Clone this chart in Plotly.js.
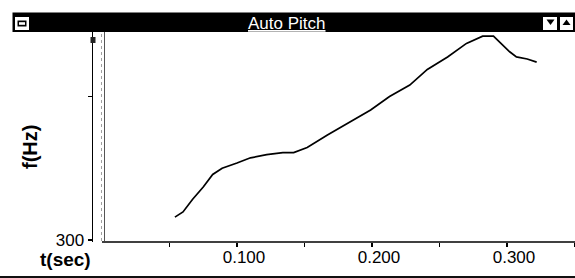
<!DOCTYPE html>
<html><head><meta charset="utf-8">
<script src="https://cdn.plot.ly/plotly-3.0.1.min.js"></script>
<style>html,body{margin:0;padding:0;background:#fff;}#chart{width:575px;height:278px;}</style>
</head><body><div id="chart"></div>
<script>
// Data
const timeSec = [0.054,0.060,0.067,0.075,0.082,0.089,0.100,0.110,0.122,0.134,0.142,0.152,0.167,0.184,0.199,0.213,0.228,0.241,0.256,0.270,0.282,0.290,0.295,0.302,0.307,0.315,0.322];
const pitchHz = [322,327,339,351,363,369,374,379,382,384,384,389,401,414,425,438,449,464,476,489,496,496,490,481,476,474,471];
const xTickVals = [0.05,0.10,0.15,0.20,0.25,0.30,0.35];
const xTickText = ['','0.100','','0.200','','0.300',''];
const yTickVals = [300,438];
const yTickText = ['300',''];

const L=93, T=30, B=242, R=575;
const PX = p => (p-L)/(R-L);
const PY = p => (B-p)/(B-T);
const FONT = 'Liberation Sans, Arial, sans-serif';

const shapes = [
  // title bar
  {type:'rect',xref:'paper',yref:'paper',x0:PX(12.5),x1:1.0,y0:PY(32),y1:PY(12.5),fillcolor:'#000',line:{width:0}},
  // left system box
  {type:'rect',xref:'paper',yref:'paper',x0:PX(15),x1:PX(29),y0:PY(30),y1:PY(17),fillcolor:'#fff',line:{width:0}},
  {type:'rect',xref:'paper',yref:'paper',x0:PX(17.5),x1:PX(26.5),y0:PY(26.5),y1:PY(20.5),fillcolor:'#000',line:{width:0}},
  {type:'rect',xref:'paper',yref:'paper',x0:PX(19),x1:PX(25),y0:PY(24.8),y1:PY(22.2),fillcolor:'#fff',line:{width:0}},
  // right buttons
  {type:'rect',xref:'paper',yref:'paper',x0:PX(543),x1:PX(557),y0:PY(30),y1:PY(17),fillcolor:'#fff',line:{width:0}},
  {type:'rect',xref:'paper',yref:'paper',x0:PX(560),x1:PX(573),y0:PY(30),y1:PY(17),fillcolor:'#fff',line:{width:0}},
  {type:'path',xref:'paper',yref:'paper',path:`M ${PX(546.5)} ${PY(19.5)} L ${PX(554.5)} ${PY(19.5)} L ${PX(550.5)} ${PY(25)} Z`,fillcolor:'#000',line:{width:0}},
  {type:'path',xref:'paper',yref:'paper',path:`M ${PX(562.5)} ${PY(25)} L ${PX(570.5)} ${PY(25)} L ${PX(566.5)} ${PY(19.5)} Z`,fillcolor:'#000',line:{width:0}},
  // second (gray dotted) vertical line of y axis
  {type:'line',xref:'paper',yref:'paper',x0:PX(101.5),x1:PX(101.5),y0:PY(241),y1:PY(32),line:{color:'#a0a0a0',width:1,dash:'dot'}},
  {type:'line',xref:'paper',yref:'paper',x0:PX(104.5),x1:PX(104.5),y0:PY(241),y1:PY(32),line:{color:'#555',width:1}},
  // x axis line starting at t=0
  {type:'line',xref:'x',yref:'paper',x0:0,x1:0.3504,y0:0,y1:0,line:{color:'#000',width:1.5}},
  // small mark near top of y axis
  {type:'rect',xref:'paper',yref:'paper',x0:PX(90.5),x1:PX(95.5),y0:PY(43),y1:PY(37),fillcolor:'#222',line:{width:0}},
  // bottom border
  {type:'line',xref:'paper',yref:'paper',x0:PX(0),x1:1.0,y0:PY(277),y1:PY(277),line:{color:'#111',width:2}}
];

const annotations = [
  {text:'Auto Pitch',xref:'paper',yref:'paper',x:PX(287),y:PY(24),showarrow:false,xanchor:'center',yanchor:'middle',
   font:{family:FONT,size:17,color:'#fff',lineposition:'under'}},
  {text:'<b>t(sec)</b>',xref:'paper',yref:'paper',x:PX(65),y:PY(259),showarrow:false,xanchor:'center',yanchor:'middle',
   font:{family:FONT,size:19,color:'#000'}},
  {text:'<b>f(Hz)</b>',xref:'paper',yref:'paper',x:PX(30),y:PY(147),showarrow:false,xanchor:'center',yanchor:'middle',textangle:-90,
   font:{family:FONT,size:20,color:'#000'}}
];

const trace = {x:timeSec,y:pitchHz,type:'scatter',mode:'lines',line:{color:'#000',width:1.7},hoverinfo:'skip'};

const layout = {
  width:575,height:278,
  margin:{l:L,r:0,t:T,b:278-B,pad:0},
  paper_bgcolor:'#fff',plot_bgcolor:'#fff',
  showlegend:false,
  xaxis:{range:[-(9/1350),0.3504],tickvals:xTickVals,ticktext:xTickText,ticks:'outside',ticklen:4,tickwidth:1.5,tickcolor:'#000',
    showline:false,showgrid:false,zeroline:false,ticklabelshift:7,ticklabelstandoff:-4,
    tickfont:{family:FONT,size:17,color:'#000'}},
  yaxis:{range:[298.08,501.9],tickvals:yTickVals,ticktext:yTickText,ticks:'outside',ticklen:4,tickwidth:1.5,tickcolor:'#000',
    showline:true,linecolor:'#000',linewidth:1.5,showgrid:false,zeroline:false,
    tickfont:{family:FONT,size:17,color:'#000'}},
  shapes:shapes,annotations:annotations
};
Plotly.newPlot('chart',[trace],layout,{staticPlot:true,displayModeBar:false});
</script></body></html>
